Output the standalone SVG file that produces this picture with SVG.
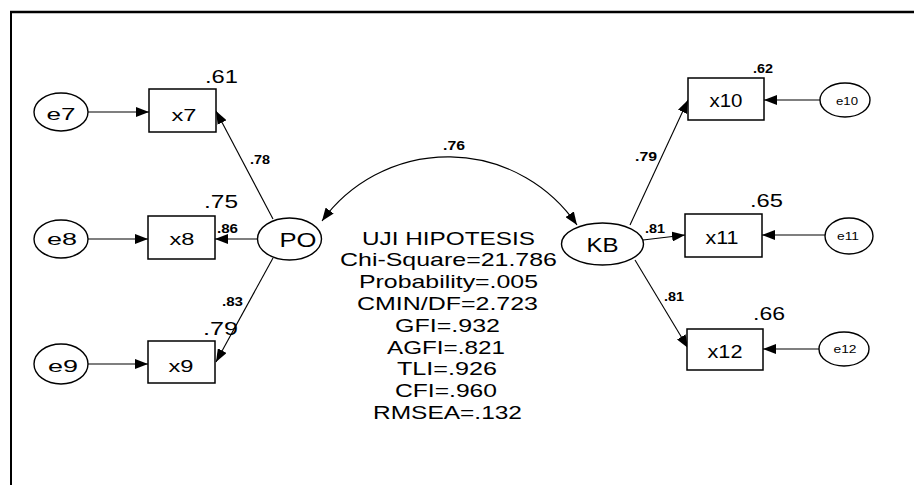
<svg xmlns="http://www.w3.org/2000/svg" width="914" height="485" viewBox="0 0 914 485">
<style>
text{font-family:"Liberation Sans",Arial,sans-serif;fill:#000;}
.box{fill:#fff;stroke:#000;stroke-width:1.5;}
.ell{fill:#fff;stroke:#000;stroke-width:1.4;}
.c{text-anchor:middle;}
.stat{font-size:19px;text-anchor:middle;}
.lbl{font-size:12px;font-weight:bold;}
.r2{font-size:18px;}
.edge{fill:none;stroke:#000;stroke-width:1.1;marker-end:url(#ah);}
</style>
<defs>
<marker id="ah" markerUnits="userSpaceOnUse" markerWidth="14" markerHeight="10" refX="13" refY="5" orient="auto-start-reverse">
<path d="M0,0 L13,5 L0,10 Z" fill="#000"/>
</marker>
</defs>
<rect width="914" height="485" fill="#fff"/>
<g id="frame" stroke="#000" fill="none">
<line x1="10" y1="12" x2="914" y2="12" stroke-width="2.5"/>
<line x1="11" y1="11" x2="11" y2="485" stroke-width="2"/>
</g>
<g id="connectors">
<line class="edge" x1="88" y1="112" x2="149" y2="112"/>
<line class="edge" x1="88" y1="239" x2="148" y2="239"/>
<line class="edge" x1="87" y1="364" x2="148" y2="364"/>
<line class="edge" x1="273" y1="219" x2="216" y2="111"/>
<line class="edge" x1="257" y1="239" x2="215" y2="239"/>
<line class="edge" x1="273" y1="258" x2="216" y2="362"/>
<path class="edge" style="marker-start:url(#ah)" d="M322 221 A156 156 0 0 1 577 225"/>
<line class="edge" x1="630" y1="225" x2="688" y2="100"/>
<line class="edge" x1="643" y1="240" x2="685" y2="235"/>
<line class="edge" x1="635" y1="260" x2="688" y2="348"/>
<line class="edge" x1="820" y1="100" x2="764" y2="100"/>
<line class="edge" x1="825" y1="235" x2="762" y2="235"/>
<line class="edge" x1="819" y1="349" x2="763" y2="349"/>
<text class="lbl" x="250" y="164" textLength="20" lengthAdjust="spacingAndGlyphs">.78</text>
<text class="lbl" x="217" y="233" textLength="21" lengthAdjust="spacingAndGlyphs">.86</text>
<text class="lbl" x="222" y="306" textLength="21" lengthAdjust="spacingAndGlyphs">.83</text>
<text class="lbl" x="443" y="150" textLength="22" lengthAdjust="spacingAndGlyphs">.76</text>
<text class="lbl" x="635" y="161" textLength="22" lengthAdjust="spacingAndGlyphs">.79</text>
<text class="lbl" x="645" y="233" textLength="20" lengthAdjust="spacingAndGlyphs">.81</text>
<text class="lbl" x="664" y="301" textLength="20" lengthAdjust="spacingAndGlyphs">.81</text>
</g>
<g id="e7"><ellipse class="ell" cx="61" cy="112" rx="27" ry="19"/><text class="c" x="61" y="120" font-size="17" textLength="29" lengthAdjust="spacingAndGlyphs">e7</text></g>
<g id="e8"><ellipse class="ell" cx="61" cy="239" rx="27" ry="19"/><text class="c" x="62" y="245" font-size="17" textLength="30" lengthAdjust="spacingAndGlyphs">e8</text></g>
<g id="e9"><ellipse class="ell" cx="61" cy="364" rx="27" ry="20"/><text class="c" x="63" y="372" font-size="17" textLength="30" lengthAdjust="spacingAndGlyphs">e9</text></g>
<g id="x7"><rect class="box" x="149" y="89" width="67" height="43"/><text class="c" x="184" y="121" font-size="17" textLength="25" lengthAdjust="spacingAndGlyphs">x7</text><text class="r2" x="205" y="83" textLength="33" lengthAdjust="spacingAndGlyphs">.61</text></g>
<g id="x8"><rect class="box" x="148" y="216" width="67" height="43"/><text class="c" x="182" y="245" font-size="17" textLength="25" lengthAdjust="spacingAndGlyphs">x8</text><text class="r2" x="204" y="208" textLength="34" lengthAdjust="spacingAndGlyphs">.75</text></g>
<g id="x9"><rect class="box" x="148" y="341" width="67" height="42"/><text class="c" x="181" y="372" font-size="17" textLength="25" lengthAdjust="spacingAndGlyphs">x9</text><text class="r2" x="203" y="335" textLength="35" lengthAdjust="spacingAndGlyphs">.79</text></g>
<g id="PO"><ellipse class="ell" cx="289.5" cy="239" rx="32" ry="21"/><text class="c" x="298" y="247" font-size="20" textLength="37" lengthAdjust="spacingAndGlyphs">PO</text></g>
<g id="KB"><ellipse class="ell" cx="602.5" cy="244" rx="41" ry="21"/><text class="c" x="602.5" y="252" font-size="21" textLength="32" lengthAdjust="spacingAndGlyphs">KB</text></g>
<g id="x10"><rect class="box" x="688" y="78" width="76" height="42"/><text class="c" x="726" y="107" font-size="19" textLength="33" lengthAdjust="spacingAndGlyphs">x10</text><text x="753" y="73" font-size="12" font-weight="bold" textLength="20" lengthAdjust="spacingAndGlyphs">.62</text></g>
<g id="x11"><rect class="box" x="685" y="214" width="77" height="43"/><text class="c" x="722" y="244" font-size="19" textLength="33" lengthAdjust="spacingAndGlyphs">x11</text><text class="r2" x="750" y="207" textLength="33" lengthAdjust="spacingAndGlyphs">.65</text></g>
<g id="x12"><rect class="box" x="687" y="329" width="76" height="41"/><text class="c" x="725" y="358" font-size="19" textLength="35" lengthAdjust="spacingAndGlyphs">x12</text><text class="r2" x="753" y="320" textLength="32" lengthAdjust="spacingAndGlyphs">.66</text></g>
<g id="e10"><ellipse class="ell" cx="845" cy="100" rx="25" ry="17"/><text class="c" x="847" y="105" font-size="11" textLength="22" lengthAdjust="spacingAndGlyphs">e10</text></g>
<g id="e11"><ellipse class="ell" cx="849" cy="236" rx="24" ry="18"/><text class="c" x="848" y="240" font-size="11" textLength="22" lengthAdjust="spacingAndGlyphs">e11</text></g>
<g id="e12"><ellipse class="ell" cx="844" cy="349" rx="25" ry="17"/><text class="c" x="845" y="353" font-size="11" textLength="23" lengthAdjust="spacingAndGlyphs">e12</text></g>
<g id="fit">
<text class="stat" x="448.5" y="244.5" textLength="173" lengthAdjust="spacingAndGlyphs">UJI HIPOTESIS</text>
<text class="stat" x="448.5" y="266.3" textLength="217" lengthAdjust="spacingAndGlyphs">Chi-Square=21.786</text>
<text class="stat" x="448.5" y="288.1" textLength="179" lengthAdjust="spacingAndGlyphs">Probability=.005</text>
<text class="stat" x="447.5" y="309.9" textLength="181" lengthAdjust="spacingAndGlyphs">CMIN/DF=2.723</text>
<text class="stat" x="447.5" y="331.7" textLength="105" lengthAdjust="spacingAndGlyphs">GFI=.932</text>
<text class="stat" x="446" y="353.5" textLength="118" lengthAdjust="spacingAndGlyphs">AGFI=.821</text>
<text class="stat" x="447" y="375.3" textLength="100" lengthAdjust="spacingAndGlyphs">TLI=.926</text>
<text class="stat" x="446" y="397.1" textLength="102" lengthAdjust="spacingAndGlyphs">CFI=.960</text>
<text class="stat" x="447.5" y="418.9" textLength="149" lengthAdjust="spacingAndGlyphs">RMSEA=.132</text>
</g>
</svg>
